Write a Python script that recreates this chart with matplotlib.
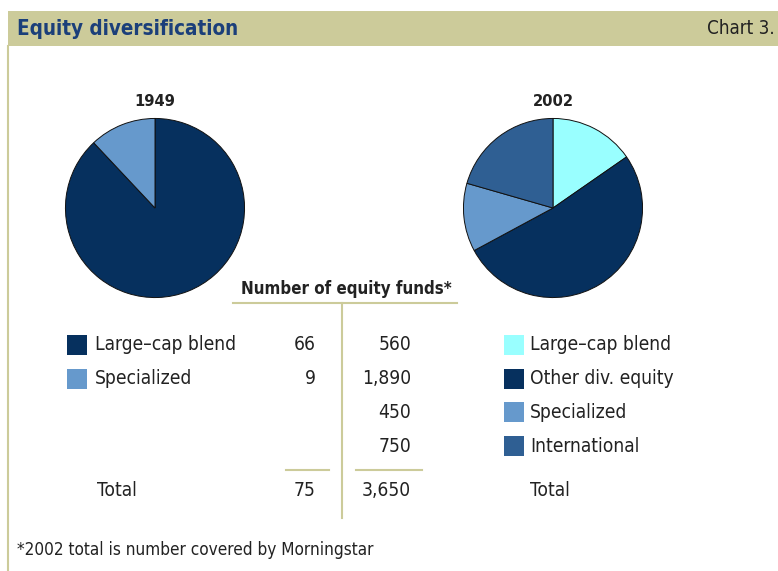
import matplotlib
matplotlib.use("Agg")
import matplotlib.pyplot as plt
from matplotlib.patches import Rectangle

# ---- data ----
cats_1949 = ["Large\u2013cap blend", "Specialized"]
vals_1949 = [66, 9]
total_1949 = 75
cats_2002 = ["Large\u2013cap blend", "Other div. equity", "Specialized", "International"]
vals_2002 = [560, 1890, 450, 750]
total_2002 = 3650
labels_2002_txt = ["560", "1,890", "450", "750"]

NAVY = "#06305E"
LIGHT = "#6699CC"
CYAN = "#99FFFF"
INTL = "#2F5F93"
colors_1949 = [NAVY, LIGHT]
colors_2002 = [CYAN, NAVY, LIGHT, INTL]
BEIGE = "#CCCB9A"
TXT = "#222222"

plt.rcParams["font.family"] = ["DejaVu Sans"]
plt.rcParams["font.stretch"] = "condensed"
ST = "condensed"
FS = 13.8

W, H = 778, 571
fig = plt.figure(figsize=(W / 100, H / 100), dpi=100)
ax = fig.add_axes([0, 0, 1, 1])
ax.set_xlim(0, W)
ax.set_ylim(H, 0)
ax.axis("off")

# header band
ax.add_patch(Rectangle((8, 11), W - 8, 35, facecolor=BEIGE, edgecolor="none"))
ax.plot([8.5, 8.5], [46, H], color=BEIGE, lw=1.5)
ax.text(17, 29, "Equity diversification", fontsize=14.8, fontweight="bold", fontstretch=ST,
        color="#1B3F7A", va="center", ha="left")
ax.text(775, 29, "Chart 3.", fontsize=13.5, fontstretch=ST, color=TXT, va="center", ha="right")

# pies
def pie_axes(cx, cy, r):
    return fig.add_axes([(cx - r) / W, (H - cy - r) / H, 2 * r / W, 2 * r / H])

pa = pie_axes(155, 208, 90)
pa.pie(vals_1949, colors=colors_1949, startangle=90, counterclock=False,
       wedgeprops=dict(edgecolor="#111111", linewidth=0.7))
pa.set_xlim(-1.005, 1.005); pa.set_ylim(-1.005, 1.005)
pa.set_aspect("equal")
pb = pie_axes(553, 208, 90)
pb.pie(vals_2002, colors=colors_2002, startangle=90, counterclock=False,
       wedgeprops=dict(edgecolor="#111111", linewidth=0.7))
pb.set_xlim(-1.005, 1.005); pb.set_ylim(-1.005, 1.005)
pb.set_aspect("equal")

ax.text(155, 101, "1949", fontsize=11.8, fontweight="bold", fontstretch=ST, color=TXT, ha="center", va="center")
ax.text(553, 101, "2002", fontsize=11.8, fontweight="bold", fontstretch=ST, color=TXT, ha="center", va="center")

# table header
ax.text(346, 289, "Number of equity funds*", fontsize=12.2, fontweight="bold", fontstretch=ST,
        color=TXT, ha="center", va="center")
ax.plot([233, 457], [303, 303], color=BEIGE, lw=1.5)
ax.plot([342, 342], [303, 518], color=BEIGE, lw=1.5)

row_y = [345, 379, 412, 446]
total_y = 491
sq = 20
for i, (c, v, col) in enumerate(zip(cats_1949, vals_1949, colors_1949)):
    y = row_y[i]
    ax.add_patch(Rectangle((67, y - sq / 2), sq, sq, facecolor=col, edgecolor="none"))
    ax.text(95, y, c, fontsize=FS, fontstretch=ST, color=TXT, ha="left", va="center")
    ax.text(316, y, f"{v:,}", fontsize=FS, fontstretch=ST, color=TXT, ha="right", va="center")
for i, (c, t, col) in enumerate(zip(cats_2002, labels_2002_txt, colors_2002)):
    y = row_y[i]
    ax.add_patch(Rectangle((504, y - sq / 2), sq, sq, facecolor=col, edgecolor="none"))
    ax.text(530, y, c, fontsize=FS, fontstretch=ST, color=TXT, ha="left", va="center")
    ax.text(411, y, t, fontsize=FS, fontstretch=ST, color=TXT, ha="right", va="center")

ax.plot([286, 329], [470, 470], color=BEIGE, lw=1.5)
ax.plot([356, 422], [470, 470], color=BEIGE, lw=1.5)
ax.text(97, total_y, "Total", fontsize=FS, fontstretch=ST, color=TXT, ha="left", va="center")
ax.text(316, total_y, f"{total_1949:,}", fontsize=FS, fontstretch=ST, color=TXT, ha="right", va="center")
ax.text(411, total_y, f"{total_2002:,}", fontsize=FS, fontstretch=ST, color=TXT, ha="right", va="center")
ax.text(530, total_y, "Total", fontsize=FS, fontstretch=ST, color=TXT, ha="left", va="center")

ax.text(17, 550, "*2002 total is number covered by Morningstar", fontsize=12.3, fontstretch=ST,
        color=TXT, ha="left", va="center")

fig.savefig("out.png", dpi=100)
